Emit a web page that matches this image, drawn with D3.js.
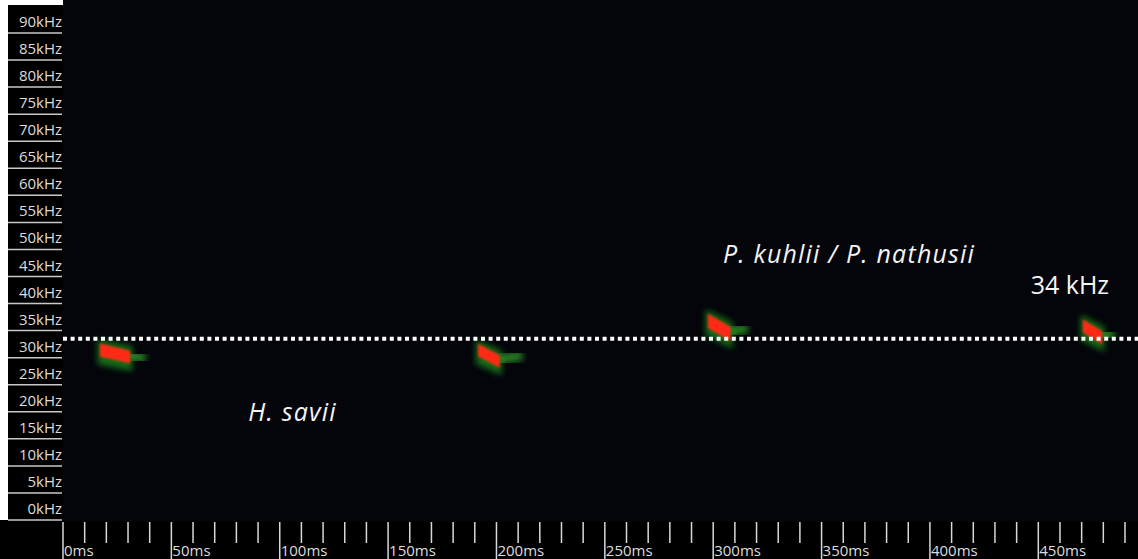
<!DOCTYPE html>
<html>
<head>
<meta charset="utf-8">
<script src="https://cdn.jsdelivr.net/npm/d3@7"></script>
<style>
  html, body { margin: 0; padding: 0; background: #000; }
  svg { display: block; }
  .ylab, .xlab { font-family: "Open Sans", "DejaVu Sans", sans-serif; font-size: 15px; fill: #dcdcdc; }
  .note { font-family: "Open Sans", "Lato", sans-serif; font-size: 25px; fill: #f4f4f4; }
</style>
</head>
<body>
<div id="chart"></div>
<script>
// frequency ticks (kHz) and time ticks (ms)
const freqTicks = [0, 5, 10, 15, 20, 25, 30, 35, 40, 45, 50, 55, 60, 65, 70, 75, 80, 85, 90];
const majorTimes = [0, 50, 100, 150, 200, 250, 300, 350, 400, 450];
const minorTimes = [10, 20, 30, 40, 60, 70, 80, 90, 110, 120, 130, 140, 160, 170, 180, 190,
                    210, 220, 230, 240, 260, 270, 280, 290, 310, 320, 330, 340, 360, 370, 380, 390,
                    410, 420, 430, 440, 460, 470, 480, 490];

// echolocation calls: strong part (start/end ms, start/end kHz, band kHz)
const callT0 = [17, 191.5, 297.5, 470.5];
const callT1 = [31, 201.5, 308, 479.5];
const callF0 = [31.4, 31.4, 36.8, 35.9];
const callF1 = [30.1, 29.3, 34.4, 33.7];
const callBw = [2.4, 2.3, 2.6, 2.4];
// weak tail of each call (ms, kHz)
const tailT1 = [38, 212, 316, 485];
const tailF1 = [29.8, 30.4, 35.4, 34.4];

const thresholdKHz = 33.5;
const notes = [
  {text: "H. savii", t: 85.5, f: 18.3, italic: true},
  {text: "P. kuhlii / P. nathusii", t: 304.5, f: 47.5, italic: true},
  {text: "34 kHz", t: 446.5, f: 41.8, italic: false}
];

const W = 1138, H = 559;
const plotLeft = 63, axisTop = 521;

const x = d3.scaleLinear().domain([0, 496]).range([plotLeft, W]);
const y = d3.scaleLinear().domain([0, 90]).range([520, 33]);

const svg = d3.select("#chart").append("svg")
    .attr("width", W).attr("height", H);

const defs = svg.append("defs");
defs.append("filter").attr("id", "blurBig").attr("x", "-50%").attr("y", "-50%")
    .attr("width", "200%").attr("height", "200%")
  .append("feGaussianBlur").attr("stdDeviation", 3);
defs.append("filter").attr("id", "blurSmall").attr("x", "-20%").attr("y", "-50%")
    .attr("width", "140%").attr("height", "200%")
  .append("feGaussianBlur").attr("stdDeviation", 0.9);

// backgrounds
svg.append("rect").attr("width", W).attr("height", H).attr("fill", "#000");
svg.append("rect").attr("x", plotLeft).attr("y", 0)
    .attr("width", W - plotLeft).attr("height", axisTop).attr("fill", "#04040b");
svg.append("rect").attr("x", 0).attr("y", 0).attr("width", plotLeft).attr("height", 5).attr("fill", "#fff");
svg.append("rect").attr("x", 0).attr("y", 0).attr("width", 8).attr("height", 520).attr("fill", "#fff");

// frequency labels with separator lines
const fy = svg.append("g");
fy.selectAll("line").data(freqTicks).join("line")
    .attr("x1", 8).attr("x2", plotLeft - 1)
    .attr("y1", d => y(d)).attr("y2", d => y(d))
    .attr("stroke", "#c8c8c8").attr("stroke-width", 1.5);
fy.selectAll("text").data(freqTicks).join("text")
    .attr("class", "ylab")
    .attr("x", plotLeft - 1).attr("y", d => y(d) - 6)
    .attr("text-anchor", "end")
    .text(d => d + "kHz");

// time axis
const tx = svg.append("g");
tx.selectAll("line.minor").data(minorTimes).join("line")
    .attr("class", "minor")
    .attr("x1", d => x(d)).attr("x2", d => x(d))
    .attr("y1", 522).attr("y2", 543)
    .attr("stroke", "#d8d8d8").attr("stroke-width", 1.5);
tx.selectAll("line.major").data(majorTimes).join("line")
    .attr("class", "major")
    .attr("x1", d => x(d)).attr("x2", d => x(d))
    .attr("y1", 522).attr("y2", H)
    .attr("stroke", "#d8d8d8").attr("stroke-width", 1.5);
tx.selectAll("text").data(majorTimes).join("text")
    .attr("class", "xlab")
    .attr("x", d => x(d) + 1).attr("y", 556)
    .text(d => d + "ms");

// calls
const calls = callT0.map((t0, i) => ({
  t0: t0, t1: callT1[i], f0: callF0[i], f1: callF1[i], bw: callBw[i],
  tt: tailT1[i], tf: tailF1[i]
}));

const band = d3.area()
    .x(d => x(d[0]))
    .y0(d => y(d[1] - d[2] / 2))
    .y1(d => y(d[1] + d[2] / 2));
const line = d3.line().x(d => x(d[0])).y(d => y(d[1])).curve(d3.curveBasis);

const cg = svg.append("g");
// green halo around the strong part
cg.selectAll("path.halo").data(calls).join("path")
    .attr("class", "halo")
    .attr("d", c => band([[c.t0 - 1, c.f0 - 0.3, c.bw + 2.2], [c.t1 + 1, c.f1 - 0.3, c.bw + 2.2]]))
    .attr("fill", "#1f8f1f").attr("opacity", 0.75)
    .attr("filter", "url(#blurBig)");
// green tail
cg.selectAll("path.tail").data(calls).join("path")
    .attr("class", "tail")
    .attr("d", c => line([[c.t1 - 1, c.f1 + 0.2], [(c.t1 + c.tt) / 2, (c.f1 + c.tf) / 2 + 0.3], [c.tt, c.tf]]))
    .attr("fill", "none").attr("stroke", "#33a82c").attr("stroke-width", 10)
    .attr("opacity", 0.75).attr("filter", "url(#blurBig)");
// red core
cg.selectAll("path.core").data(calls).join("path")
    .attr("class", "core")
    .attr("d", c => band([[c.t0, c.f0, c.bw], [c.t1, c.f1, c.bw]]))
    .attr("fill", "#ff2a12")
    .attr("filter", "url(#blurSmall)");

// 34 kHz threshold
svg.append("line")
    .attr("x1", x(0)).attr("x2", W)
    .attr("y1", y(thresholdKHz)).attr("y2", y(thresholdKHz))
    .attr("stroke", "#fff").attr("stroke-width", 4)
    .attr("stroke-dasharray", "4,3.6");

// annotations
svg.append("g").selectAll("text").data(notes).join("text")
    .attr("class", "note")
    .attr("x", d => x(d.t)).attr("y", d => y(d.f))
    .attr("font-style", d => d.italic ? "italic" : "normal")
    .attr("letter-spacing", d => d.italic ? 1.2 : 0)
    .text(d => d.text);
</script>
</body>
</html>
